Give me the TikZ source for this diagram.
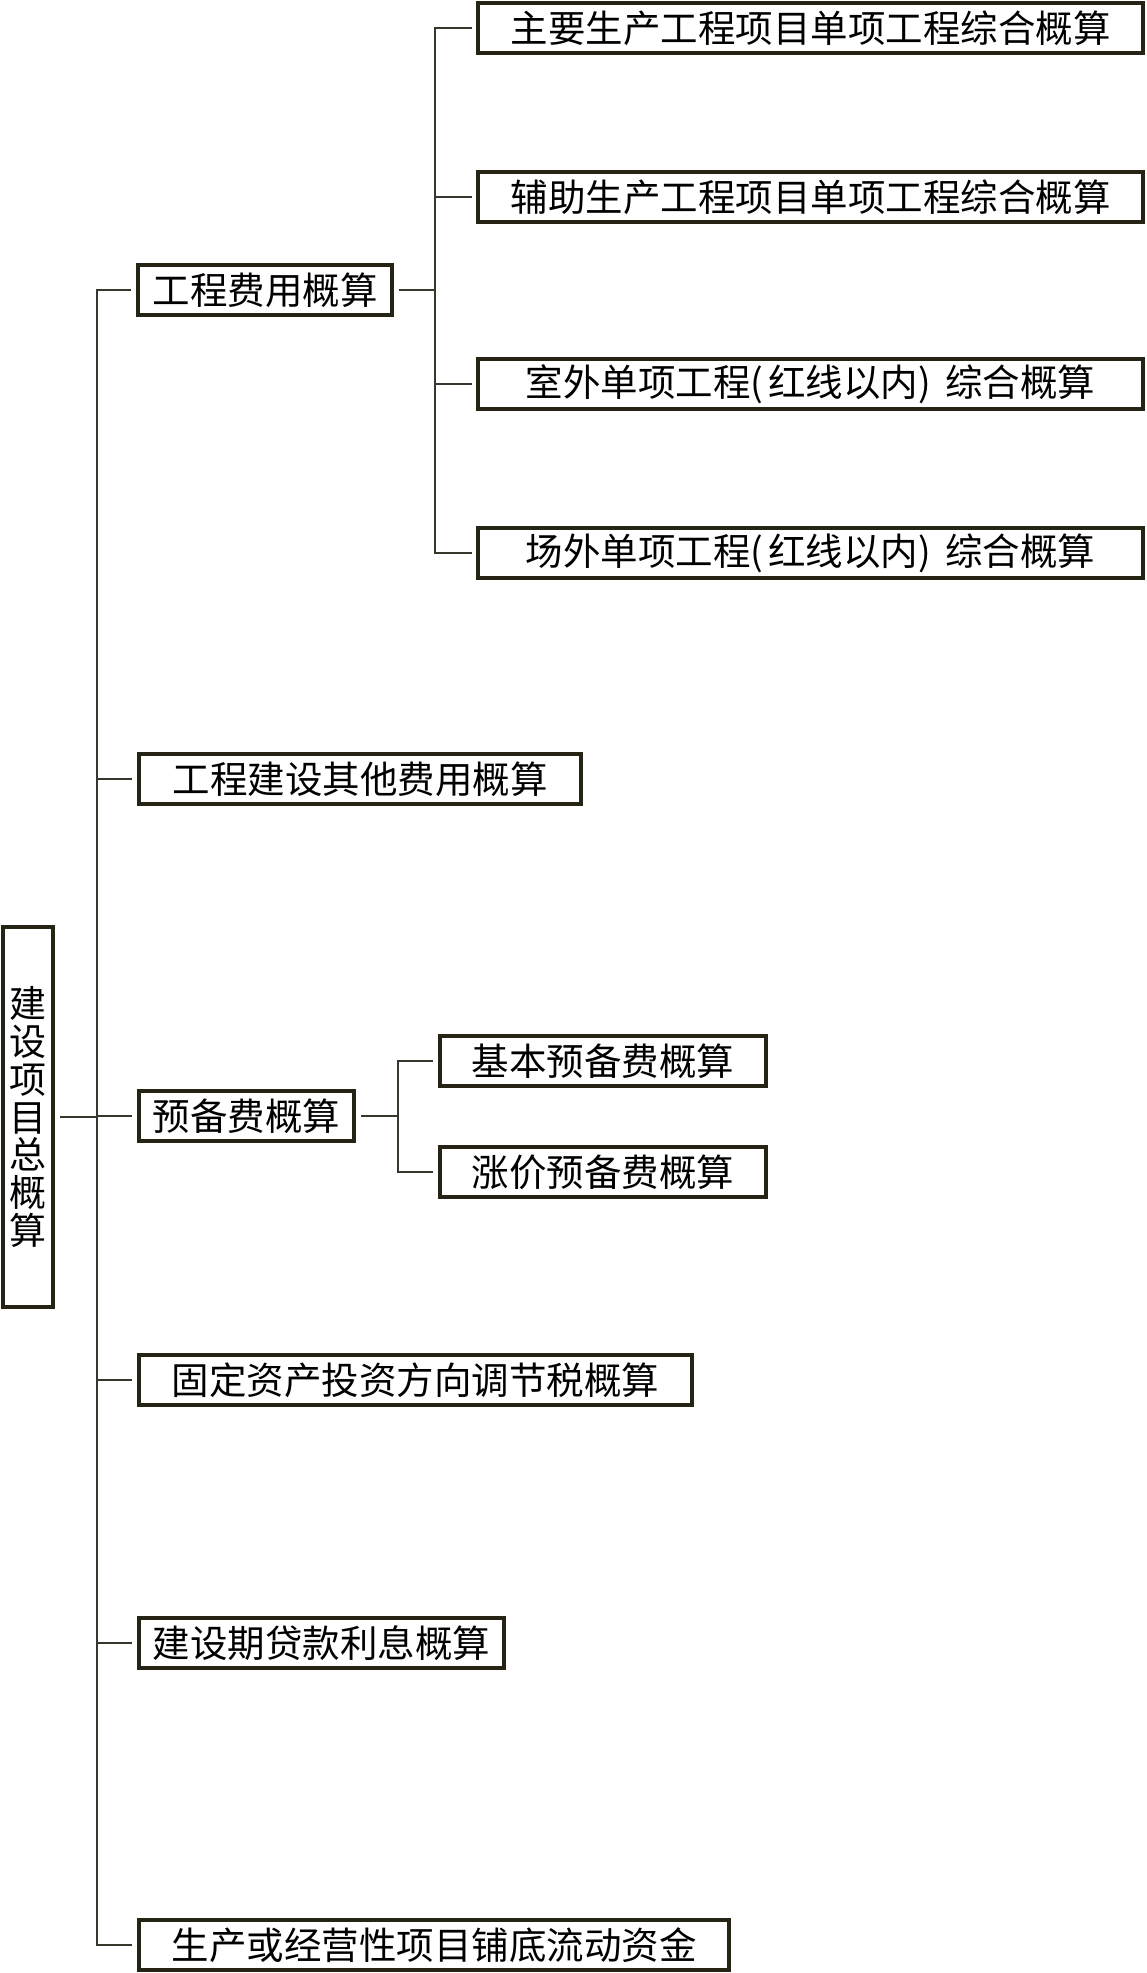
\documentclass[tikz,border=0pt]{standalone}
\usepackage{fontspec}
\newfontfamily\cjk{Noto Sans CJK SC}
\definecolor{boxline}{RGB}{38,36,20}
\definecolor{connline}{RGB}{55,55,45}
\begin{document}
\begin{tikzpicture}[x=1pt,y=-1pt,
  box/.style={draw=boxline, line width=3.2pt, fill=white, inner sep=0pt,
    font=\cjk\fontsize{37.5}{39}\selectfont, minimum height=50pt, anchor=center},
  conn/.style={draw=connline, line width=1.4pt}]
\useasboundingbox[fill=white] (0,0) rectangle (1146,1973);
% root
\node[box, minimum width=50pt, minimum height=380pt, align=center,
  font=\cjk\fontsize{37}{37.7}\selectfont] (root) at (28,1117)
  {建\\设\\项\\目\\总\\概\\算};
% level 1
\node[box, minimum width=254pt] (a) at (265,290) {工程费用概算};
\node[box, minimum width=442pt] (b) at (360,779) {工程建设其他费用概算};
\node[box, minimum width=215pt] (c) at (246.5,1116) {预备费概算};
\node[box, minimum width=553pt] (d) at (415.5,1380) {固定资产投资方向调节税概算};
\node[box, minimum width=365pt] (e) at (321.5,1643) {建设期贷款利息概算};
\node[box, minimum width=590pt] (f) at (434,1945) {生产或经营性项目铺底流动资金};
% level 2 under a
\node[box, minimum width=665pt] (a1) at (810.5,28) {主要生产工程项目单项工程综合概算};
\node[box, minimum width=665pt] (a2) at (810.5,197) {辅助生产工程项目单项工程综合概算};
\node[box, minimum width=665pt] (a3) at (810.5,384) {室外单项工程(\hspace{5pt}红线以内)\hspace{14pt}综合概算};
\node[box, minimum width=665pt] (a4) at (810.5,553) {场外单项工程(\hspace{5pt}红线以内)\hspace{14pt}综合概算};
% level 2 under c
\node[box, minimum width=326pt] (c1) at (603,1061) {基本预备费概算};
\node[box, minimum width=326pt] (c2) at (603,1172) {涨价预备费概算};
% coordinates for vertical bars
\coordinate (tk) at (97,0);
\coordinate (sa) at (435,0);
\coordinate (sc) at (398,0);
% root to trunk
\draw[conn] ([xshift=5pt]root.east) -- (root.east -| tk);
% trunk
\draw[conn] ([xshift=-5pt]a.west) -- (a.west -| tk) -- (f.west -| tk) -- ([xshift=-5pt]f.west);
\draw[conn] (b.west -| tk) -- ([xshift=-5pt]b.west);
\draw[conn] (c.west -| tk) -- ([xshift=-5pt]c.west);
\draw[conn] (d.west -| tk) -- ([xshift=-5pt]d.west);
\draw[conn] (e.west -| tk) -- ([xshift=-5pt]e.west);
% a branch
\draw[conn] ([xshift=5pt]a.east) -- (a.east -| sa);
\draw[conn] ([xshift=-4pt]a1.west) -- (a1.west -| sa) -- (a4.west -| sa) -- ([xshift=-4pt]a4.west);
\draw[conn] (a2.west -| sa) -- ([xshift=-4pt]a2.west);
\draw[conn] (a3.west -| sa) -- ([xshift=-4pt]a3.west);
% c branch
\draw[conn] ([xshift=5pt]c.east) -- (c.east -| sc);
\draw[conn] ([xshift=-5pt]c1.west) -- (c1.west -| sc) -- (c2.west -| sc) -- ([xshift=-5pt]c2.west);
\end{tikzpicture}
\end{document}
